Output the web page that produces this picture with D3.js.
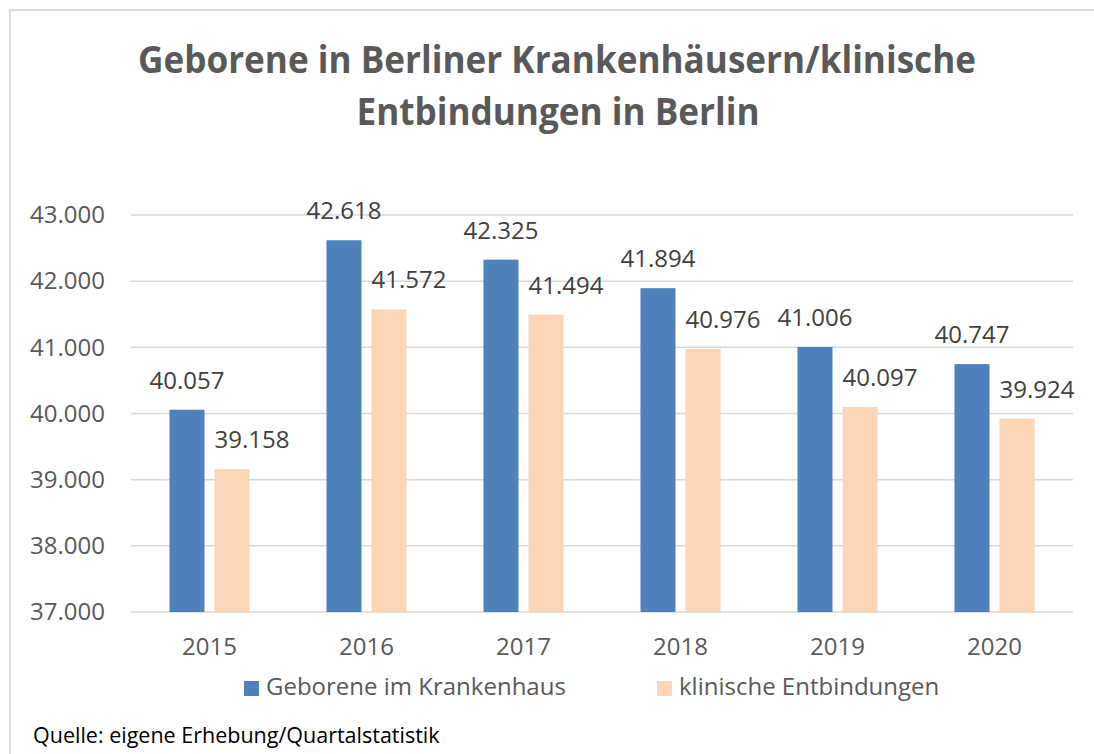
<!DOCTYPE html>
<html>
<head>
<meta charset="utf-8">
<script src="https://cdn.jsdelivr.net/npm/d3@7"></script>
<style>
    body { margin: 0; background: #fff; }
    svg { display: block; font-family: "Open Sans", sans-serif; }
</style>
</head>
<body>
<div id="chart"></div>
<script>
const jahre = ["2015", "2016", "2017", "2018", "2019", "2020"];
const serien = ["Geborene im Krankenhaus", "klinische Entbindungen"];
const geborene = [40057, 42618, 42325, 41894, 41006, 40747];
const entbindungen = [39158, 41572, 41494, 40976, 40097, 39924];
const yTicks = [37000, 38000, 39000, 40000, 41000, 42000, 43000];
const farben = ["#4F81BD", "#FCD5B5"];

const largeur = 1094, hauteur = 754;
const gauche = 131, droite = 1073, haut = 215, bas = 612;

const fmt = d3.formatLocale({ decimal: ",", thousands: ".", grouping: [3] }).format(",");

const svg = d3.select("#chart").append("svg")
    .attr("width", largeur)
    .attr("height", hauteur);

// cadre du graphique
svg.append("rect")
    .attr("x", 10).attr("y", 10)
    .attr("width", 1200).attr("height", 900)
    .attr("fill", "none")
    .attr("stroke", "#D9D9D9")
    .attr("stroke-width", 2);

// titre (police plus étroite dans l'original, on resserre)
const titre = svg.append("text")
    .attr("text-anchor", "middle")
    .attr("fill", "#595959")
    .attr("font-weight", "bold")
    .attr("font-size", 38);
titre.append("tspan").attr("x", 557).attr("y", 73)
    .attr("textLength", 838).attr("lengthAdjust", "spacingAndGlyphs")
    .text("Geborene in Berliner Krankenhäusern/klinische");
titre.append("tspan").attr("x", 558).attr("y", 125)
    .attr("textLength", 403).attr("lengthAdjust", "spacingAndGlyphs")
    .text("Entbindungen in Berlin");

const x0 = d3.scaleBand().domain(jahre).range([gauche, droite])
    .paddingInner(0.49).paddingOuter(0.245);
const x1 = d3.scaleBand().domain(serien).range([0, x0.bandwidth()])
    .paddingInner(0.222);
const y = d3.scaleLinear().domain([37000, 43000]).range([bas, haut]);

// lignes de grille
svg.append("g")
    .selectAll("line")
    .data(yTicks)
    .join("line")
    .attr("x1", gauche).attr("x2", droite)
    .attr("y1", d => y(d)).attr("y2", d => y(d))
    .attr("stroke", "#D9D9D9")
    .attr("stroke-width", 1.5);

// axe y
const axeY = svg.append("g")
    .attr("transform", "translate(105,0)")
    .call(d3.axisLeft(y).tickValues(yTicks).tickFormat(fmt).tickSize(0).tickPadding(0));
axeY.select(".domain").remove();
axeY.selectAll("text")
    .attr("font-family", "Open Sans")
    .attr("font-size", 24)
    .attr("fill", "#595959");

// axe x
const axeX = svg.append("g")
    .attr("transform", "translate(0," + bas + ")")
    .call(d3.axisBottom(x0).tickSize(0).tickPadding(0));
axeX.select(".domain").remove();
axeX.selectAll("text")
    .attr("dy", 0)
    .attr("y", 43)
    .attr("font-family", "Open Sans")
    .attr("font-size", 24)
    .attr("fill", "#595959");

const donnees = jahre.map((j, i) => ({ jahr: j, werte: [geborene[i], entbindungen[i]] }));

const groupes = svg.append("g")
    .selectAll("g")
    .data(donnees)
    .join("g")
    .attr("transform", d => "translate(" + x0(d.jahr) + ",0)");

groupes.selectAll("rect")
    .data(d => d.werte.map((v, k) => ({ serie: serien[k], k: k, v: v })))
    .join("rect")
    .attr("x", d => x1(d.serie))
    .attr("y", d => y(d.v))
    .attr("width", x1.bandwidth())
    .attr("height", d => bas - y(d.v))
    .attr("fill", d => farben[d.k]);

// étiquettes des valeurs
groupes.selectAll("text")
    .data(d => d.werte.map((v, k) => ({ serie: serien[k], k: k, v: v })))
    .join("text")
    .attr("x", d => x1(d.serie) + x1.bandwidth() / 2 + (d.k === 1 ? 20 : 0))
    .attr("y", d => y(d.v) - 21)
    .attr("text-anchor", "middle")
    .attr("font-size", 24)
    .attr("fill", "#404040")
    .text(d => fmt(d.v));

// légende
const legendePos = [244, 657];
const legende = svg.append("g")
    .selectAll("g")
    .data(serien)
    .join("g")
    .attr("transform", (d, i) => "translate(" + legendePos[i] + ",681)");
legende.append("rect")
    .attr("width", 15).attr("height", 15)
    .attr("fill", (d, i) => farben[i]);
legende.append("text")
    .attr("x", 22).attr("y", 14)
    .attr("font-size", 24)
    .attr("fill", "#595959")
    .text(d => d);

// source
svg.append("text")
    .attr("x", 33).attr("y", 743)
    .attr("font-size", 21.5)
    .attr("fill", "#000")
    .text("Quelle: eigene Erhebung/Quartalstatistik");
</script>
</body>
</html>
